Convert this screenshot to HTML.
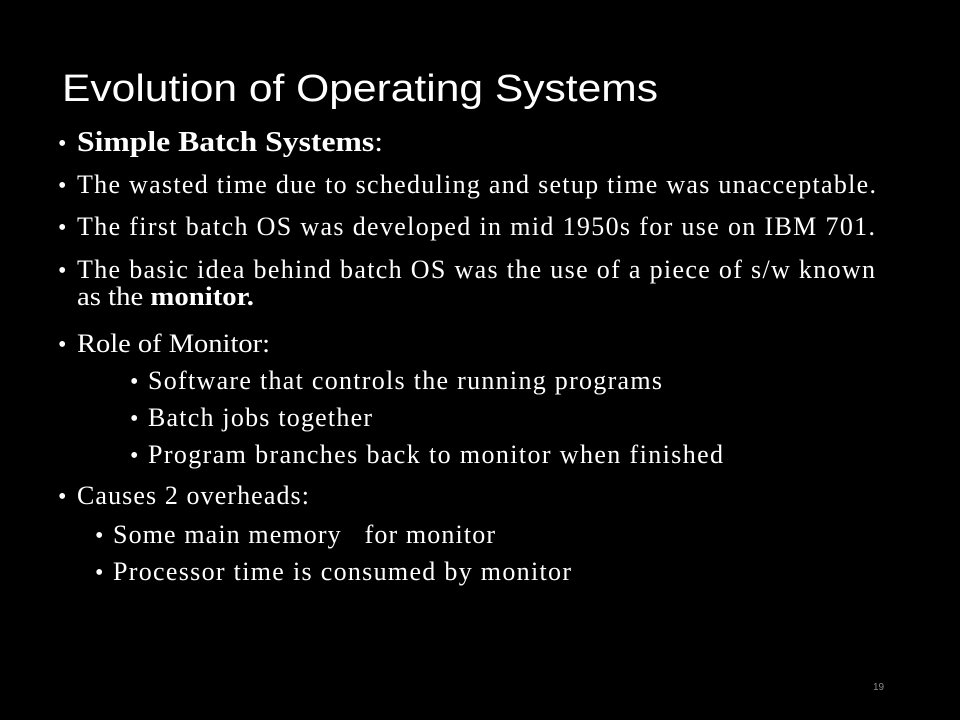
<!DOCTYPE html>
<html><head><meta charset="utf-8"><style>
html,body{margin:0;padding:0;background:#000;}
svg{display:block;}
</style></head><body>
<svg width="960" height="720" viewBox="0 0 960 720" xmlns="http://www.w3.org/2000/svg">
<rect width="960" height="720" fill="#000"/>
<g fill="#fff">
<text x="62" y="101" font-family="Liberation Sans, sans-serif" font-size="38" textLength="596" lengthAdjust="spacingAndGlyphs">Evolution of Operating Systems</text>
<g font-family="Liberation Serif, serif" font-size="26">
<text x="58" y="151" font-size="24">•</text>
<text x="77" y="151" font-size="28" textLength="306" lengthAdjust="spacingAndGlyphs"><tspan font-weight="bold">Simple Batch Systems</tspan>:</text>
<text x="58" y="193" font-size="24">•</text>
<text x="77" y="193" textLength="799" lengthAdjust="spacing">The wasted time due to scheduling and setup time was unacceptable.</text>
<text x="58" y="235" font-size="24">•</text>
<text x="77" y="235" textLength="798" lengthAdjust="spacing">The first batch OS was developed in mid 1950s for use on IBM 701.</text>
<text x="58" y="278" font-size="24">•</text>
<text x="77" y="278" textLength="798" lengthAdjust="spacing">The basic idea behind batch OS was the use of a piece of s/w known</text>
<text x="77" y="305" textLength="177" lengthAdjust="spacingAndGlyphs">as the <tspan font-weight="bold">monitor.</tspan></text>
<text x="58" y="352" font-size="24">•</text>
<text x="77" y="352" textLength="193" lengthAdjust="spacingAndGlyphs">Role of Monitor:</text>
<text x="130" y="389" font-size="24">•</text>
<text x="148" y="389" textLength="514" lengthAdjust="spacing">Software that controls the running programs</text>
<text x="130" y="426" font-size="24">•</text>
<text x="148" y="426" textLength="224" lengthAdjust="spacing">Batch jobs together</text>
<text x="130" y="463" font-size="24">•</text>
<text x="148" y="463" textLength="575" lengthAdjust="spacing">Program branches back to monitor when finished</text>
<text x="58" y="504" font-size="24">•</text>
<text x="77" y="504" textLength="232" lengthAdjust="spacing">Causes 2 overheads:</text>
<text x="95" y="543" font-size="24">•</text>
<text x="113" y="543" textLength="382" lengthAdjust="spacing">Some main memory&#160;&#160; for monitor</text>
<text x="95" y="580" font-size="24">•</text>
<text x="113" y="580" textLength="458" lengthAdjust="spacing">Processor time is consumed by monitor</text>
</g>
<text x="873" y="690" font-family="Liberation Sans, sans-serif" font-size="10" fill="#8a8a8a">19</text>
</g>
</svg>
</body></html>
